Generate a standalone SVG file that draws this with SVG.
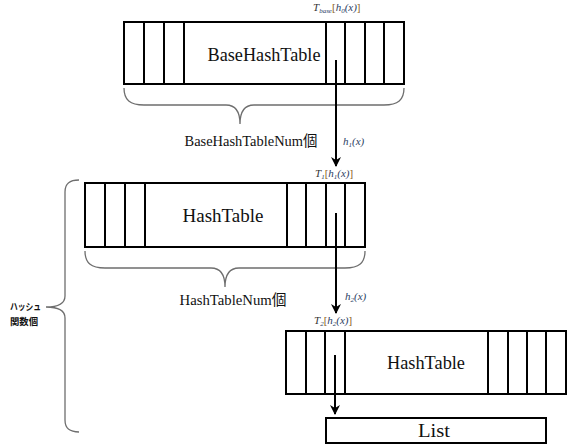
<svg xmlns="http://www.w3.org/2000/svg" width="569" height="446" viewBox="0 0 569 446">
<defs>
<style>
.box{fill:#fff;stroke:#000;stroke-width:2}
.cell{stroke:#000;stroke-width:2;fill:none}
.brace{fill:none;stroke:#6e6e6e;stroke-width:1.3}
.big{font-size:18px;fill:#111;text-anchor:middle}
.mid{font-size:15px;fill:#111;text-anchor:middle}
.math{font-style:italic;font-size:11px;fill:#2c3e63}
.br{fill:#8a5a20;font-style:normal}
.dk{fill:#333}
.jp{font-weight:bold;font-size:9.5px;fill:#111}
.arrow{stroke:#000;stroke-width:2;fill:none}
</style>
<marker id="ah" viewBox="0 0 10 10" refX="9" refY="5" markerWidth="5" markerHeight="5" orient="auto" markerUnits="strokeWidth">
<path d="M0,0 L10,5 L0,10 L3,5 Z" fill="#000"/>
</marker>
</defs>

<g id="base-table">
<rect class="box" x="124" y="22" width="280" height="62"/>
<path class="cell" d="M144,22V84M164,22V84M184,22V84M326,22V84M345,22V84M365,22V84M384,22V84"/>
<text class="big" font-family="Liberation Serif, serif" x="264" y="61" textLength="113" lengthAdjust="spacingAndGlyphs">BaseHashTable</text>
</g>

<g id="hash-table-1">
<rect class="box" x="85" y="183" width="280" height="64"/>
<path class="cell" d="M105,183V247M125,183V247M145,183V247M287,183V247M306,183V247M326,183V247M345,183V247"/>
<text class="big" font-family="Liberation Serif, serif" x="223" y="222" textLength="81" lengthAdjust="spacingAndGlyphs">HashTable</text>
</g>

<g id="hash-table-2">
<rect class="box" x="286" y="331" width="280" height="63"/>
<path class="cell" d="M306,331V394M325,331V394M345,331V394M488,331V394M508,331V394M527,331V394M546,331V394"/>
<text class="big" font-family="Liberation Serif, serif" x="426" y="369" textLength="78" lengthAdjust="spacingAndGlyphs">HashTable</text>
</g>

<g id="list">
<rect class="box" x="326" y="418" width="220" height="25"/>
<text class="big" font-family="Liberation Serif, serif" x="434" y="437" textLength="32" lengthAdjust="spacingAndGlyphs">List</text>
</g>

<g id="braces">
<path class="brace" d="M124,88 C124,100 130,105 144,105 L226,105 C236,105 240,112 240,124 C240,112 244,105 254,105 L384,105 C398,105 404,100 404,88"/>
<text class="mid" font-family="Liberation Serif, Noto Sans CJK JP, serif" x="251" y="146" textLength="133" lengthAdjust="spacingAndGlyphs">BaseHashTableNum個</text>
<path class="brace" d="M85,251 C85,263 91,268 105,268 L211,268 C221,268 225,275 225,287 C225,275 229,268 239,268 L345,268 C359,268 365,263 365,251"/>
<text class="mid" font-family="Liberation Serif, Noto Sans CJK JP, serif" x="233" y="305" textLength="107" lengthAdjust="spacingAndGlyphs">HashTableNum個</text>
<path class="brace" d="M79,180 C70,180 65,183 65,192 L65,296 C65,303 59,307 46,307 C59,307 65,311 65,318 L65,420 C65,429 70,432 79,432"/>
<text class="jp" font-family="Noto Sans CJK JP, sans-serif" x="10" y="310" textLength="31" lengthAdjust="spacingAndGlyphs">ハッシュ</text>
<text class="jp" font-family="Noto Sans CJK JP, sans-serif" x="10" y="325" textLength="28" lengthAdjust="spacingAndGlyphs">関数個</text>
</g>

<g id="labels" font-family="Liberation Serif, serif">
<text class="math" x="313" y="11"><tspan class="dk">T</tspan><tspan font-size="7" dy="2">base</tspan><tspan class="br" dy="-2">[</tspan>h<tspan font-size="7" dy="2">0</tspan><tspan dy="-2">(x)</tspan><tspan class="br">]</tspan></text>
<text class="math" x="343" y="145">h<tspan font-size="7" dy="2">1</tspan><tspan dy="-2">(x)</tspan></text>
<text class="math" x="315" y="177"><tspan class="dk">T</tspan><tspan font-size="7" dy="2">1</tspan><tspan class="br" dy="-2">[</tspan>h<tspan font-size="7" dy="2">1</tspan><tspan dy="-2">(x)</tspan><tspan class="br">]</tspan></text>
<text class="math" x="345" y="300">h<tspan font-size="7" dy="2">2</tspan><tspan dy="-2">(x)</tspan></text>
<text class="math" x="314" y="324"><tspan class="dk">T</tspan><tspan font-size="7" dy="2">2</tspan><tspan class="br" dy="-2">[</tspan>h<tspan font-size="7" dy="2">2</tspan><tspan dy="-2">(x)</tspan><tspan class="br">]</tspan></text>
</g>

<g id="connectors">
<path class="arrow" d="M336,60 V166" marker-end="url(#ah)"/>
<path class="arrow" d="M336,213 V313" marker-end="url(#ah)"/>
<path class="arrow" d="M335,355 V414" marker-end="url(#ah)"/>
</g>
</svg>
